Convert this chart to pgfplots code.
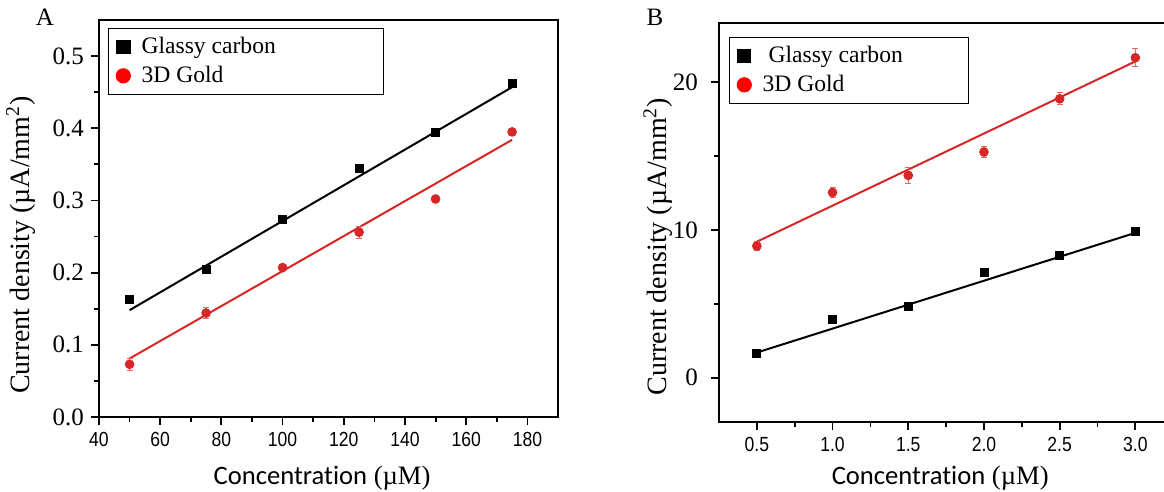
\documentclass[border=0pt]{standalone}
\usepackage{fontspec}
\setmainfont{Liberation Serif}
\newfontfamily\carlito[Ligatures=NoCommon]{Carlito}
\newfontfamily\narrowsans[FakeStretch=0.86]{Liberation Sans}
\usepackage{pgfplots}
\pgfplotsset{compat=1.18}
\definecolor{dred}{RGB}{216,38,38}

\pgfplotsset{
  myaxis/.style={
    scale only axis,
    axis line style={line width=1.1pt},
    tick align=outside, tick pos=left,
    major tick length=4pt, minor tick length=2.5pt,
    every tick/.style={black, line width=0.9pt},
    /pgf/number format/assume math mode=true,
    xticklabel style={font=\narrowsans\fontsize{10.2}{12}\selectfont},
    yticklabel style={font=\fontsize{12.5}{14}\selectfont},
    minor x tick num=1, minor y tick num=1,
    legend cell align=left,
    legend image code/.code={\path[draw=none, fill=none] (0,-0.05cm) rectangle (0.4cm,0.05cm); \draw[##1] plot coordinates {(0.15cm,0cm)};},
    legend style={draw=black, line width=0.6pt, anchor=north west,
      font=\fontsize{11.8}{13}\selectfont, row sep=0.6pt,
      inner xsep=3pt, inner ysep=2.5pt},
    every axis x label/.style={anchor=center, font=\fontsize{13.3}{15}\selectfont},
    every axis y label/.style={anchor=center, rotate=90, font=\fontsize{14}{16}\selectfont},
  }
}

\begin{document}
\begin{tikzpicture}
\useasboundingbox (0,0) rectangle (582pt,246pt);

\node[font=\fontsize{12.5}{14}\selectfont] at (22.5pt,237.5pt) {A};
\node[font=\fontsize{12.5}{14}\selectfont] at (327.5pt,237.5pt) {B};

% Panel A
\begin{axis}[myaxis,
  at={(49.5pt,37.5pt)}, anchor=south west,
  width=229.5pt, height=198.5pt,
  xmin=40, xmax=190, ymin=0, ymax=0.55,
  xtick={40,60,...,180},
  ytick={0,0.1,...,0.5},
  yticklabel style={/pgf/number format/.cd, fixed, fixed zerofill, precision=1},
  xlabel={{\carlito Concentration} (µM)},
  ylabel={Current density (µA/mm\textsuperscript{2})},
  xlabel style={at={(rel axis cs:0.486,0)}, yshift=-30.5pt},
  ylabel style={at={(rel axis cs:-0.170,0.433)}},
  legend style={at={(0.02,0.98)}},
]
\addplot[black, line width=1pt, forget plot] coordinates {(50,0.148) (175,0.457)};
\addplot[dred, line width=1pt, forget plot] coordinates {(50,0.081) (175,0.384)};
\addplot[only marks, mark=square*, mark size=2pt, black, forget plot]
  coordinates {(50,0.163) (75,0.205) (100,0.274) (125,0.345) (150,0.394) (175,0.462)};
\addplot[only marks, mark=*, mark size=2.2pt, dred, forget plot,
  error bars/.cd, y dir=both, y explicit,
  error bar style={line width=0.6pt, dred!70},
  error mark options={rotate=90, mark size=1.5pt, dred!70}]
  coordinates {(50,0.073) +- (0,0.008) (75,0.144) +- (0,0.008) (100,0.207) +- (0,0.004)
               (125,0.256) +- (0,0.008) (150,0.302) +- (0,0.003) (175,0.395) +- (0,0.005)};
\addlegendimage{only marks, mark=square*, mark size=3.3pt, black}
\addlegendentry{Glassy carbon\hspace*{49pt}}
\addlegendimage{only marks, mark=*, mark size=3.5pt, red}
\addlegendentry{3D Gold}
\end{axis}

% Panel B
\begin{axis}[myaxis,
  at={(359.5pt,35pt)}, anchor=south west,
  width=230.9pt, height=199.5pt,
  xmin=0.25, xmax=3.3, ymin=-3, ymax=24,
  xtick={0.5,1.0,...,3.0},
  ytick={0,10,20},
  xticklabel style={/pgf/number format/.cd, fixed, fixed zerofill, precision=1},
  yticklabel style={xshift=-3pt},
  xlabel={{\carlito Concentration} (µM)},
  ylabel={Current density (µA/mm\textsuperscript{2})},
  xlabel style={at={(rel axis cs:0.479,0)}, yshift=-28pt},
  ylabel style={at={(rel axis cs:-0.132,0.439)}},
  legend style={at={(0.022,0.965)}},
]
\addplot[black, line width=1pt, forget plot] coordinates {(0.5,1.7) (3.0,9.8)};
\addplot[dred, line width=1pt, forget plot] coordinates {(0.5,9.2) (3.0,21.4)};
\addplot[only marks, mark=square*, mark size=2pt, black, forget plot]
  coordinates {(0.5,1.64) (1.0,3.91) (1.5,4.84) (2.0,7.09) (2.5,8.25) (3.0,9.89)};
\addplot[only marks, mark=*, mark size=2.2pt, dred, forget plot,
  error bars/.cd, y dir=both, y explicit,
  error bar style={line width=0.6pt, dred!70},
  error mark options={rotate=90, mark size=1.5pt, dred!70}]
  coordinates {(0.5,8.91) +- (0,0.3) (1.0,12.53) +- (0,0.35) (1.5,13.69) +- (0,0.55)
               (2.0,15.27) +- (0,0.35) (2.5,18.87) +- (0,0.4) (3.0,21.65) +- (0,0.6)};
\addlegendimage{only marks, mark=square*, mark size=3.3pt, black}
\addlegendentry{\hspace*{3pt}Glassy carbon\hspace*{28pt}}
\addlegendimage{only marks, mark=*, mark size=3.5pt, red}
\addlegendentry{3D Gold}
\end{axis}
\end{tikzpicture}
\end{document}
